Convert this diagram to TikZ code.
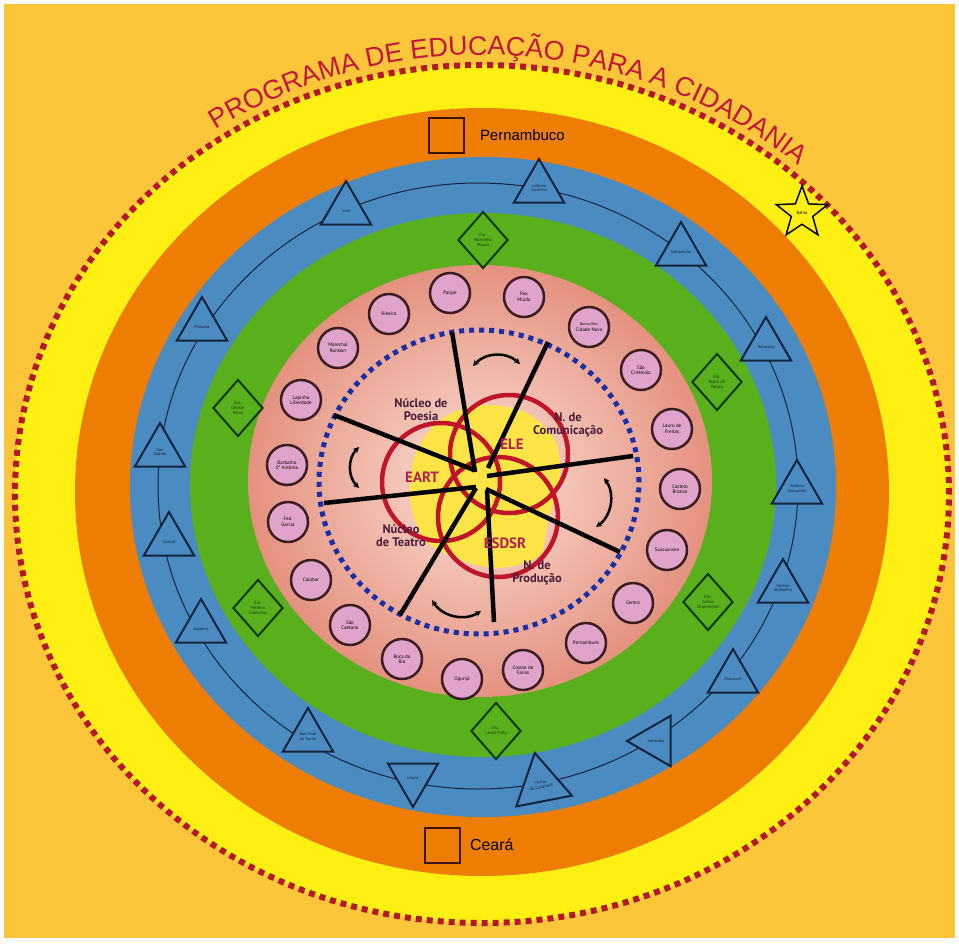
\documentclass[tikz,border=0pt]{standalone}
\usepackage{fontspec}
\setmainfont{PT Sans}
\newfontfamily\arialfont{Liberation Sans}
\usetikzlibrary{shapes.geometric, decorations.text, arrows.meta, positioning}

\definecolor{bggold}{HTML}{FCC53A}
\definecolor{ringyellow}{HTML}{FFEF12}
\definecolor{ringorange}{HTML}{EE7D03}
\definecolor{ringblue}{HTML}{4A8CC1}
\definecolor{ringgreen}{HTML}{59B01C}
\definecolor{pinkedge}{HTML}{E5917F}
\definecolor{pinkcore}{HTML}{FAE1D6}
\definecolor{blobyellow}{HTML}{FFE448}
\definecolor{dotred}{HTML}{B5182A}
\definecolor{titlered}{HTML}{C3163A}
\definecolor{dotblue}{HTML}{1A2EA6}
\definecolor{vennred}{HTML}{C0142A}
\definecolor{venntext}{HTML}{B22050}
\definecolor{nucleotext}{HTML}{4A1E3A}
\definecolor{bairrofill}{HTML}{E0A4CB}
\definecolor{bairroedge}{HTML}{3B1E22}
\definecolor{navyline}{HTML}{16233C}
\definecolor{darkgreen}{HTML}{12360C}
\definecolor{boxbrown}{HTML}{3D1208}

\tikzset{
	bairro/.style={
			circle,
			draw=bairroedge,
			line width=2.5bp,
			fill=bairrofill,
			minimum size=40bp,
			inner sep=0pt,
			align=center,
			font=\fontsize{5}{5.5}\selectfont
		},
	cidade/.style={
			regular polygon,
			regular polygon sides=3,
			draw=navyline,
			fill=ringblue,
			line width=2bp,
			minimum size=58bp,
			inner sep=0pt,
			align=center,
			text=navyline,
			font=\fontsize{4.2}{4.8}\selectfont
		},
	escola/.style={
			diamond,
			draw=darkgreen,
			fill=ringgreen,
			line width=2bp,
			minimum width=50bp,
			minimum height=57bp,
			inner sep=0pt,
			align=center,
			text=darkgreen,
			font=\fontsize{4.5}{5}\selectfont
		},
	estado/.style={
			rectangle,
			draw=boxbrown,
			line width=2bp,
			minimum size=35bp,
			inner sep=0pt
		},
	nucleo/.style={
			align=center,
			text=nucleotext,
			font=\bfseries\fontsize{12.5}{13}\selectfont
		},
	venn/.style={draw=vennred, line width=4.5bp},
	venntag/.style={text=venntext, font=\bfseries\fontsize{15}{15}\selectfont},
	spoke/.style={draw=black, line width=4.5bp},
	giro/.style={draw=black, line width=2.5bp, {Stealth[length=6bp,width=6bp]}-{Stealth[length=6bp,width=6bp]}}
}

\begin{document}
\begin{tikzpicture}[x=1bp, y=1bp]
  \useasboundingbox (0,0) rectangle (959,-945);
  \fill[white] (0,0) rectangle (959,-945);
  \fill[bggold] (4,-4) rectangle (955,-938);

  % rings
  \fill[ringyellow] (482,-494) ellipse [x radius=467, y radius=429];
  \draw[dotred, line width=6bp, dash pattern=on 6bp off 5bp] (482,-494) ellipse [x radius=467, y radius=429];
  \fill[ringorange] (482,-492) ellipse [x radius=407, y radius=384];
  \fill[ringblue] (483,-487) ellipse [x radius=353, y radius=330];
  \draw[navyline, line width=1bp] (478,-486) ellipse [x radius=320, y radius=303];
  \fill[ringgreen] (483,-485) ellipse [x radius=293, y radius=272];
  \shade[inner color=pinkcore, outer color=pinkedge] (480,-481) ellipse [x radius=232, y radius=216];

  % title
  \path[decorate, decoration={text along path, text align={fit to path}, text color=titlered,
      text={|\arialfont\fontsize{27}{27}\selectfont|PROGRAMA DE EDUCAÇÃO PARA A CIDADANIA}}]
    (482,-494) ++(124:476 and 439) arc[start angle=124, end angle=49, x radius=476, y radius=439];

  % centre
  \fill[blobyellow] plot[smooth cycle] coordinates {(440,-420) (480,-405) (525,-412) (555,-440) (560,-480)
    (548,-520) (540,-555) (500,-568) (460,-560) (425,-540) (410,-500) (415,-455)};
  \draw[dotblue, line width=5bp, dash pattern=on 5bp off 5bp] (479,-482) ellipse [x radius=160, y radius=152];

  \draw[venn] (441,-482) circle [radius=59];
  \draw[venn] (509,-454) circle [radius=59];
  \draw[venn] (498,-517) circle [radius=60];

  \draw[spoke] (452,-332) -- (475,-472);
  \draw[spoke] (548,-342) -- (488,-468);
  \draw[spoke] (633,-456) -- (487,-476);
  \draw[spoke] (620,-552) -- (486,-489);
  \draw[spoke] (494,-622) -- (487,-490);
  \draw[spoke] (400,-615) -- (476,-488);
  \draw[spoke] (324,-503) -- (476,-487);
  \draw[spoke] (334,-415) -- (474,-470);

  \draw[giro] (473,-366) to[bend left=45] (520,-364);
  \draw[giro] (359,-488) to[bend left=45] (359,-447);
  \draw[giro] (596,-527) to[bend right=45] (604,-478);
  \draw[giro] (432,-600) to[bend right=45] (481,-611);

  \node[venntag] (eart) at (422,-477) {EART};
  \node[venntag] (ele) at (512,-444) {ELE};
  \node[venntag] (esdsr) at (505,-543) {ESDSR};

  \node[nucleo] (poesia) at (421,-410) {Núcleo de\\Poesia};
  \node[nucleo] (comunic) at (568,-425) {N. de\\Comunicação};
  \node[nucleo] (teatro) at (401,-536) {Núcleo\\de Teatro};
  \node[nucleo] (producao) at (537,-573) {N. de\\Produção};

  % bairros
  \node[bairro] (c1) at (389,-314) {Ribeira};
  \node[bairro] (c2) at (450,-293) {Paripe};
  \node[bairro] (c3) at (524,-297) {Pau\\Miúdo};
  \node[bairro] (c4) at (589,-327) {\fontsize{3.8}{4.2}\selectfont Barros Reis\\Cidade Nova};
  \node[bairro] (c5) at (641,-370) {São\\Cristóvão};
  \node[bairro] (c6) at (672,-429) {Lauro de\\Freitas};
  \node[bairro] (c7) at (680,-489) {Castelo\\Branco};
  \node[bairro] (c8) at (667,-550) {Sussuarana};
  \node[bairro] (c9) at (633,-603) {Centro};
  \node[bairro] (c10) at (586,-643) {Pernambués};
  \node[bairro] (c11) at (523,-670) {Cosme de\\Farias};
  \node[bairro] (c12) at (462,-679) {Ogunjá};
  \node[bairro] (c13) at (402,-659) {Boca do\\Rio};
  \node[bairro] (c14) at (350,-625) {São\\Caetano};
  \node[bairro] (c15) at (311,-580) {Calabar};
  \node[bairro] (c16) at (288,-522) {Fed.\\Garcia};
  \node[bairro] (c17) at (287,-465) {Barbalho\\Sº Antônio};
  \node[bairro] (c18) at (301,-400) {Lapinha\\Liberdade};
  \node[bairro] (c19) at (338,-348) {Marechal\\Rondon};

  % escolas
  \node[escola] (d1) at (483,-240) {Esc.\\Normélio\\Moura};
  \node[escola] (d2) at (717,-382) {Esc.\\Barra de\\Pojuca};
  \node[escola] (d3) at (708,-602) {Esc.\\Carlos\\Drummond};
  \node[escola] (d4) at (496,-731) {Esc.\\Lauro Fully};
  \node[escola] (d5) at (258,-608) {Esc.\\Helena\\Celestino};
  \node[escola] (d6) at (238,-408) {Esc.\\Denise\\Peixe};

  % cidades
  \node[cidade] (t1) at (346,-210) {\\Irecê};
  \node[cidade] (t2) at (539,-188) {Lafaiete\\Coutinho};
  \node[cidade] (t3) at (681,-251) {\\Sobradinho};
  \node[cidade] (t4) at (766,-346) {\\Remanso};
  \node[cidade] (t5) at (797,-489) {Antônio\\Gonçalves};
  \node[cidade] (t6) at (783,-588) {Senhor\\do Bonfim};
  \node[cidade] (t7) at (733,-678) {\\Macururé};
  \node[cidade, shape border rotate=90] (t8) at (656,-741) {Itaberaba};
  \node[cidade, rotate=11] (t9) at (541,-785) {Vitória\\da Conquista};
  \node[cidade, shape border rotate=180] (t10) at (413,-778) {Jequié};
  \node[cidade] (t11) at (308,-737) {Boa Vista\\do Tupim};
  \node[cidade] (t12) at (201,-628) {\\Juazeiro};
  \node[cidade] (t13) at (169,-541) {\\Central};
  \node[cidade] (t14) at (160,-452) {São\\Gabriel};
  \node[cidade] (t15) at (202,-326) {\\Pintadas};

  % estados
  \node[estado] (pe) at (446,-135) {};
  \node[right=12bp of pe, font=\arialfont\fontsize{15}{15}\selectfont] (pename) {Pernambuco};
  \node[estado] (ce) at (442,-845) {};
  \node[right=6bp of ce, font=\arialfont\fontsize{16}{16}\selectfont] (cename) {Ceará};
  \node[star, star points=5, star point ratio=2.4, minimum size=54bp, inner sep=0pt,
    fill=ringyellow, draw=black, line width=1.5bp, font=\fontsize{4.5}{5}\selectfont] (ba) at (802,-213) {Bahia};

\end{tikzpicture}
\end{document}
